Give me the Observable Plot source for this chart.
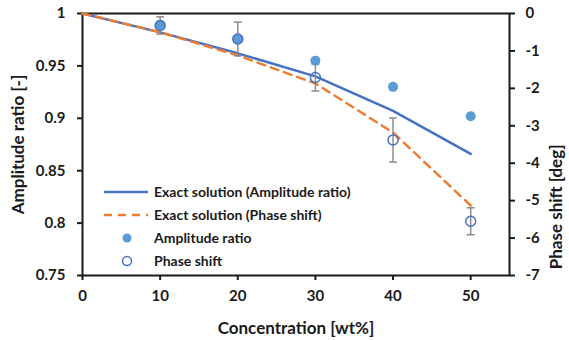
<!DOCTYPE html>
<html>
<head>
<meta charset="utf-8">
<script src="https://cdn.jsdelivr.net/npm/d3@7"></script>
<script src="https://cdn.jsdelivr.net/npm/@observablehq/plot@0.6"></script>
<style>
  html, body { margin: 0; padding: 0; background: #fff; }
  #wrap { position: relative; width: 569px; height: 340px; font-family: Lato, "Open Sans", sans-serif; }
  #legend { position: absolute; left: 102px; top: 180px; font-weight: bold; font-size: 14px; color: #1a1a1a; }
  #legend .row { display: flex; align-items: center; height: 23px; }
  #legend svg { width: 48px; height: 14px; margin-right: 4px; }
  g[aria-label$="axis label"] text { font-size: 17px; }
</style>
</head>
<body>
<div id="wrap"><div id="chart"></div><div id="legend"></div></div>
<script>
// ---- data ----
const concentration = [10, 20, 30, 40, 50];
const ampMeasured = [0.989, 0.976, 0.955, 0.930, 0.902];
const phaseMeasured = [-0.32, -0.68, -1.71, -3.38, -5.55];
const phaseError = [0.23, 0.45, 0.36, 0.59, 0.36];

const exactConc = [0, 10, 20, 30, 40, 50];
const exactAmp = [1.0, 0.982, 0.962, 0.940, 0.907, 0.866];
const exactPhase = [0, -0.5, -1.12, -1.87, -3.18, -5.13];

const xTicks = [0, 10, 20, 30, 40, 50];
const ampTicks = [0.75, 0.8, 0.85, 0.9, 0.95, 1];
const degTicks = [0, -1, -2, -3, -4, -5, -6, -7];
const rightTitle = ["Phase shift [deg]"];

// secondary axis mapping: deg [-7, 0] -> amplitude scale [0.75, 1]
const toAmp = d => 1 + d * 0.25 / 7;
const toDeg = a => Math.round((a - 1) * 28);

const exact = exactConc.map((c, i) => ({c, amp: exactAmp[i], ph: toAmp(exactPhase[i])}));
const meas = concentration.map((c, i) => ({
  c, amp: ampMeasured[i], ph: toAmp(phaseMeasured[i]),
  lo: toAmp(phaseMeasured[i] - phaseError[i]), hi: toAmp(phaseMeasured[i] + phaseError[i])
}));

const capSymbol = { draw(ctx, size) { const w = Math.sqrt(size) / 2; ctx.moveTo(-w, 0); ctx.lineTo(w, 0); } };

const blue = "#4472C4", orange = "#ED7D31", lightBlue = "#5B9BD5", grey = "#8C8C8C";

const chart = Plot.plot({
  width: 569, height: 340,
  marginLeft: 82, marginRight: 60, marginTop: 13, marginBottom: 65,
  style: { fontFamily: "Lato, 'Open Sans', sans-serif", fontWeight: "bold", color: "#1a1a1a", background: "#fff" },
  x: { domain: [0, 55] },
  y: { domain: [0.75, 1] },
  marks: [
    Plot.frame({ stroke: "#1a1a1a", strokeWidth: 2 }),
    Plot.axisX(xTicks, { tickSize: 5, tickPadding: 10, fontSize: 15, strokeWidth: 2, stroke: "#1a1a1a",
      tickFormat: d => String(d), label: "Concentration [wt%]", labelAnchor: "center", labelArrow: "none", labelOffset: 58 }),
    Plot.axisY(ampTicks, { anchor: "left", tickSize: 5, tickPadding: 12, fontSize: 15, strokeWidth: 2, stroke: "#1a1a1a",
      tickFormat: d => String(d), label: "Amplitude ratio [-]", labelAnchor: "center", labelArrow: "none", labelOffset: 71 }),
    Plot.axisY(degTicks.map(toAmp), { anchor: "right", tickSize: 5, tickPadding: 11, fontSize: 15, strokeWidth: 2, stroke: "#1a1a1a",
      tickFormat: a => String(toDeg(a)), label: null }),
    Plot.text(rightTitle, { frameAnchor: "right", dx: 47, rotate: -90, fontSize: 17, fontWeight: "bold", fill: "#1a1a1a" }),
    Plot.line(exact, { x: "c", y: "amp", stroke: blue, strokeWidth: 2.5 }),
    Plot.line(exact, { x: "c", y: "ph", stroke: orange, strokeWidth: 2.5, strokeDasharray: "8,6" }),
    Plot.link(meas, { x1: "c", x2: "c", y1: "lo", y2: "hi", stroke: grey, strokeWidth: 1.5 }),
    Plot.dot(meas, { x: "c", y: "lo", symbol: capSymbol, r: 4.5, stroke: grey, strokeWidth: 1.5 }),
    Plot.dot(meas, { x: "c", y: "hi", symbol: capSymbol, r: 4.5, stroke: grey, strokeWidth: 1.5 }),
    Plot.dot(meas, { x: "c", y: "amp", r: 5, fill: lightBlue, stroke: "none" }),
    Plot.dot(meas, { x: "c", y: "ph", r: 5, fill: "none", stroke: blue, strokeWidth: 1.5 })
  ]
});
document.getElementById("chart").appendChild(chart);

const legendItems = [
  { label: "Exact solution (Amplitude ratio)", kind: "line", color: blue, dash: null },
  { label: "Exact solution (Phase shift)", kind: "line", color: orange, dash: "8,6" },
  { label: "Amplitude ratio", kind: "dot", fill: lightBlue },
  { label: "Phase shift", kind: "circle", stroke: blue }
];
const legend = d3.select("#legend");
for (const it of legendItems) {
  const row = legend.append("div").attr("class", "row");
  const s = row.append("svg").attr("viewBox", "0 0 48 14");
  if (it.kind === "line") {
    s.append("line").attr("x1", 2).attr("x2", 46).attr("y1", 7).attr("y2", 7)
      .attr("stroke", it.color).attr("stroke-width", 2.5).attr("stroke-dasharray", it.dash);
  } else if (it.kind === "dot") {
    s.append("circle").attr("cx", 25).attr("cy", 7).attr("r", 4.5).attr("fill", it.fill);
  } else {
    s.append("circle").attr("cx", 25).attr("cy", 7).attr("r", 4.5).attr("fill", "none").attr("stroke", it.stroke).attr("stroke-width", 1.5);
  }
  row.append("span").text(it.label);
}
</script>
</body>
</html>
